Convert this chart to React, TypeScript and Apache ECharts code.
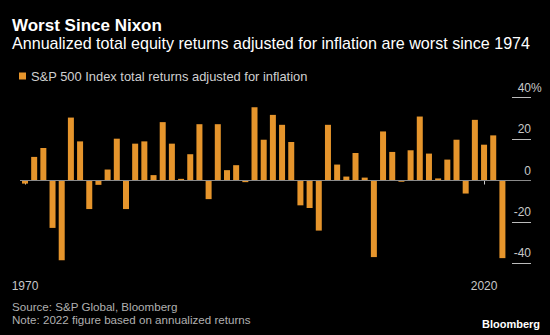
import React, { useEffect, useRef } from "react";
import * as echarts from "echarts";

const years: string[] = [
  "1970","1971","1972","1973","1974","1975","1976","1977","1978","1979",
  "1980","1981","1982","1983","1984","1985","1986","1987","1988","1989",
  "1990","1991","1992","1993","1994","1995","1996","1997","1998","1999",
  "2000","2001","2002","2003","2004","2005","2006","2007","2008","2009",
  "2010","2011","2012","2013","2014","2015","2016","2017","2018","2019",
  "2020","2021","2022",
];

const realReturns: number[] = [
  -1.5, 11.4, 15.7, -22.9, -38.5, 30.4, 18.9, -13.8, -2.1, 5.3,
  20.2, -13.8, 17.8, 18.9, 2.6, 28.2, 17.8, 0.8, 12.7, 27.2,
  -9.0, 27.2, 5.0, 7.4, -0.8, 35.4, 19.7, 31.7, 26.9, 18.6,
  -12.0, -13.3, -24.2, 26.9, 7.7, 1.9, 13.3, 1.4, -37.0, 23.7,
  13.8, -0.6, 14.6, 30.9, 13.0, 1.0, 10.1, 19.7, -6.3, 29.3,
  17.3, 21.8, -37.5,
];

const labeledYears: string[] = ["1970", "2020"];
const yTicks: number[] = [-40, -20, 0, 20, 40];

const seriesName = "S&P 500 Index total returns adjusted for inflation";
const titleText = "Worst Since Nixon";
const subtitleText =
  "Annualized total equity returns adjusted for inflation are worst since 1974";
const sourceText = "Source: S&P Global, Bloomberg";
const noteText = "Note: 2022 figure based on annualized returns";

const FONT = "'Liberation Sans', Arial, sans-serif";
const ORANGE = "#e6952c";
const GRAY = "#8a8a8a";

export default function App() {
  const ref = useRef<HTMLDivElement>(null);

  useEffect(() => {
    if (!ref.current) return;
    const chart = echarts.init(ref.current, null, { renderer: "svg" });
    const yMin = yTicks[0];
    const yMax = yTicks[yTicks.length - 1];
    const option: any = {
      animation: false,
      backgroundColor: "#000000",
      textStyle: { fontFamily: FONT },
      legend: {
        data: [seriesName],
        left: 14,
        top: 64.5,
        icon: "rect",
        itemWidth: 7,
        itemHeight: 7,
        itemGap: 6,
        textStyle: { color: "#d0d0d0", fontSize: 12.9, fontFamily: FONT },
      },
      grid: { left: 20.4, right: 43, top: 97.7, bottom: 71.7 },
      xAxis: [
        {
          type: "category",
          data: years,
          position: "bottom",
          axisLine: { show: false },
          axisTick: {
            show: true,
            alignWithLabel: true,
            length: 4,
            interval: (_i: number, v: string) => labeledYears.includes(v),
            lineStyle: { color: "#cccccc" },
          },
          axisLabel: {
            interval: (_i: number, v: string) => labeledYears.includes(v),
            color: "#c8c8c8",
            fontSize: 12,
            margin: 17,
            fontFamily: FONT,
          },
          splitLine: { show: false },
        },
        {
          type: "category",
          data: years,
          axisLine: { show: true, onZero: true, lineStyle: { color: GRAY, width: 1 } },
          axisTick: { show: false },
          axisLabel: { show: false },
          splitLine: { show: false },
          z: 5,
        },
      ],
      yAxis: [
        {
          type: "value",
          position: "right",
          min: yMin,
          max: yMax,
          interval: 20,
          axisLine: { show: false },
          axisTick: { show: true, length: 24, customValues: [0], lineStyle: { color: GRAY } },
          axisLabel: { show: false },
          splitLine: { show: false },
        },
        {
          type: "value",
          position: "right",
          offset: 5,
          min: yMin,
          max: yMax,
          interval: 20,
          axisLine: { show: false },
          axisTick: {
            show: true,
            length: 19,
            customValues: yTicks.filter((v) => v !== 0),
            lineStyle: { color: "#bbbbbb" },
          },
          axisLabel: {
            show: true,
            customValues: yTicks,
            inside: false,
            align: "right",
            verticalAlign: "bottom",
            margin: 19,
            padding: [0, 0, 4, 0],
            color: "#c8c8c8",
            fontSize: 12,
            fontFamily: FONT,
          },
          splitLine: { show: false },
        },
      ],
      series: [
        {
          name: seriesName,
          type: "bar",
          data: realReturns,
          xAxisIndex: 0,
          yAxisIndex: 0,
          barWidth: 6,
          itemStyle: { color: ORANGE },
          z: 2,
        },
      ],
      graphic: [
        {
          type: "text",
          x: 12,
          y: 25.5,
          style: {
            text: titleText,
            fill: "#ffffff",
            fontSize: 17,
            fontWeight: "bold",
            fontFamily: FONT,
            verticalAlign: "middle",
          },
        },
        {
          type: "text",
          x: 12,
          y: 43,
          style: {
            text: subtitleText,
            fill: "#ffffff",
            fontSize: 16.1,
            fontFamily: FONT,
            verticalAlign: "middle",
          },
        },
        {
          type: "text",
          x: 531,
          y: 87.5,
          style: { text: "%", fill: "#c8c8c8", fontSize: 12, fontFamily: FONT, verticalAlign: "middle" },
        },
        {
          type: "text",
          x: 12,
          y: 306,
          style: { text: sourceText, fill: "#b0b0b0", fontSize: 11.6, fontFamily: FONT, verticalAlign: "middle" },
        },
        {
          type: "text",
          x: 12,
          y: 319.5,
          style: { text: noteText, fill: "#b0b0b0", fontSize: 11.6, fontFamily: FONT, verticalAlign: "middle" },
        },
        {
          type: "text",
          x: 540,
          y: 323.5,
          style: {
            text: "Bloomberg",
            fill: "#ffffff",
            fontSize: 11,
            fontWeight: "bold",
            fontFamily: FONT,
            align: "right",
            verticalAlign: "middle",
          },
        },
      ],
    };
    chart.setOption(option);
    return () => chart.dispose();
  }, []);

  return <div ref={ref} style={{ width: 550, height: 335, position: "absolute", left: 0, top: 0 }} />;
}
